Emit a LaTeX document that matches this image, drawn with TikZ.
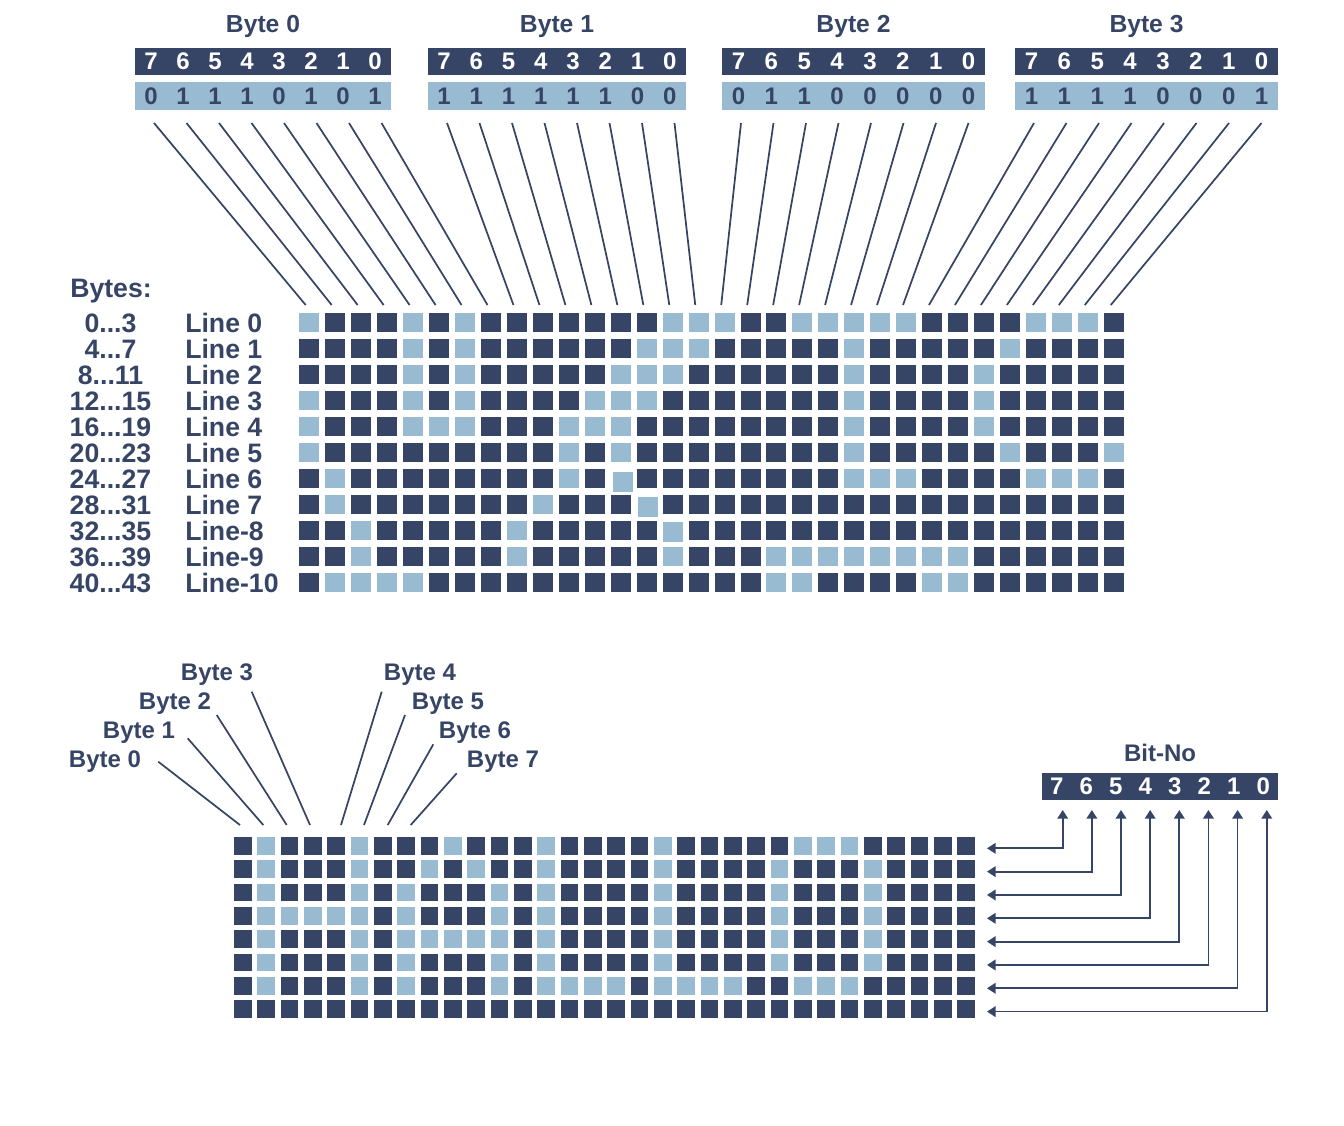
\documentclass[tikz,border=0pt]{standalone}
\usepackage{fontspec}
\setmainfont{Liberation Sans}
\usetikzlibrary{arrows.meta,calc}
\definecolor{navy}{RGB}{54,69,102}
\definecolor{lite}{RGB}{153,187,210}
\newcommand\tdots{...}
\begin{document}
\begin{tikzpicture}[x=0.75pt,y=-0.75pt,
  title/.style={text=navy,font=\bfseries\fontsize{18.5}{20}\selectfont,inner sep=0pt,anchor=base},
  lbl/.style={text=navy,font=\bfseries\fontsize{18}{20}\selectfont,inner sep=0pt,anchor=base},
  biglbl/.style={text=navy,font=\bfseries\fontsize{20}{22}\selectfont,inner sep=0pt},
  digw/.style={text=white,font=\bfseries\fontsize{18}{20}\selectfont,inner sep=0pt},
  digd/.style={text=navy,font=\bfseries\fontsize{18}{20}\selectfont,inner sep=0pt},
  barbox/.style={anchor=north west,inner sep=0pt,outer sep=0pt},
  sq/.style={anchor=north west,minimum width=15pt,minimum height=14.6pt,inner sep=0pt,outer sep=0pt},
  sqb/.style={anchor=north west,minimum size=13.3pt,inner sep=0pt,outer sep=0pt},
  c0/.style={fill=lite},
  c1/.style={fill=navy},
  c2/.style={fill=lite,xshift=2pt,yshift=-2.5pt},
  c3/.style={fill=lite,xshift=1.3pt,yshift=-1.7pt},
  c4/.style={fill=lite,yshift=-1pt},
  conn/.style={draw=navy,line width=1.3pt},
  arr/.style={draw=navy,line width=1.3pt,{Triangle[length=6.5pt,width=8pt]}-{Triangle[length=6.5pt,width=8pt]}}
]
\useasboundingbox (0,0) rectangle (1344,1125);

% ---------- byte tables at the top ----------
\foreach \k/\xa/\xb/\bits in {0/135/391/{0,1,1,1,0,1,0,1},1/428/686/{1,1,1,1,1,1,0,0},2/722/985/{0,1,1,0,0,0,0,0},3/1015/1278/{1,1,1,1,0,0,0,1}}{
  \node[title] (title\k) at ({(\xa+\xb)/2},32) {Byte \k};
  \node[barbox,fill=navy,minimum width={0.75pt*(\xb-\xa)},minimum height=20.5pt] (dbar\k) at (\xa,48) {};
  \node[barbox,fill=lite,minimum width={0.75pt*(\xb-\xa)},minimum height=21pt] (lbar\k) at (\xa,82) {};
  \foreach \b [count=\i from 0] in \bits {
    \pgfmathtruncatemacro\d{7-\i}
    \node[digw] (dn\k-\i) at ({\xa+(\i+0.5)*(\xb-\xa)/8},61.5) {\d};
    \node[digd] (vn\k-\i) at ({\xa+(\i+0.5)*(\xb-\xa)/8},96) {\b};
    \pgfmathtruncatemacro\col{8*\k+\i}
    \coordinate (s\k-\i) at ({\xa+19+32.5*\i},123);
    \coordinate (e\k-\i) at ({305.7+25.97*\col},305);
    \draw[conn] (s\k-\i) -- (e\k-\i);
  }
}

% ---------- top pixel grid ----------
\foreach \rowdata [count=\r from 0] in {
{0,1,1,1,0,1,0,1,1,1,1,1,1,1,0,0,0,1,1,0,0,0,0,0,1,1,1,1,0,0,0,1},
{1,1,1,1,0,1,0,1,1,1,1,1,1,0,0,0,1,1,1,1,1,0,1,1,1,1,1,0,1,1,1,1},
{1,1,1,1,0,1,0,1,1,1,1,1,0,0,0,1,1,1,1,1,1,0,1,1,1,1,0,1,1,1,1,1},
{0,1,1,1,0,1,0,1,1,1,1,0,0,0,1,1,1,1,1,1,1,0,1,1,1,1,0,1,1,1,1,1},
{0,1,1,1,0,0,0,1,1,1,0,0,0,1,1,1,1,1,1,1,1,0,1,1,1,1,0,1,1,1,1,1},
{0,1,1,1,1,1,1,1,1,1,0,1,0,1,1,1,1,1,1,1,1,0,1,1,1,1,1,0,1,1,1,0},
{1,0,1,1,1,1,1,1,1,1,0,1,2,1,1,1,1,1,1,1,1,0,0,0,1,1,1,1,0,0,0,1},
{1,0,1,1,1,1,1,1,1,0,1,1,1,3,1,1,1,1,1,1,1,1,1,1,1,1,1,1,1,1,1,1},
{1,1,0,1,1,1,1,1,0,1,1,1,1,1,4,1,1,1,1,1,1,1,1,1,1,1,1,1,1,1,1,1},
{1,1,0,1,1,1,1,1,0,1,1,1,1,1,0,1,1,1,0,0,0,0,0,0,0,0,1,1,1,1,1,1},
{1,0,0,0,0,1,1,1,1,1,1,1,1,1,1,1,1,1,0,0,1,1,1,1,0,0,1,1,1,1,1,1}}{
  \foreach \v [count=\c from 0] in \rowdata {
    \node[sq,c\v] (t-\r-\c) at ({299+25.97*\c},{313+26*\r}) {};
  }
}

% ---------- left labels ----------
\node[biglbl,anchor=base west] (bytes) at (70,297.5) {Bytes:};
\foreach \rng/\ln [count=\r from 0] in {0\tdots3/Line 0,4\tdots7/Line 1,8\tdots11/Line 2,12\tdots15/Line 3,16\tdots19/Line 4,20\tdots23/Line 5,24\tdots27/Line 6,28\tdots31/Line 7,32\tdots35/Line-8,36\tdots39/Line-9,40\tdots43/Line-10}{
  \node[biglbl,anchor=base] (rng\r) at (110.5,{332.5+26*\r}) {\rng};
  \node[biglbl,anchor=base west] (ln\r) at (185,{332.5+26*\r}) {\ln};
}

% ---------- bottom pixel grid ----------
\foreach \rowdata [count=\r from 0] in {
{1,0,1,1,1,0,1,1,1,0,1,1,1,0,1,1,1,1,0,1,1,1,1,1,0,0,0,1,1,1,1,1},
{1,0,1,1,1,0,1,1,0,1,0,1,1,0,1,1,1,1,0,1,1,1,1,0,1,1,1,0,1,1,1,1},
{1,0,1,1,1,0,1,0,1,1,1,0,1,0,1,1,1,1,0,1,1,1,1,0,1,1,1,0,1,1,1,1},
{1,0,0,0,0,0,1,0,1,1,1,0,1,0,1,1,1,1,0,1,1,1,1,0,1,1,1,0,1,1,1,1},
{1,0,1,1,1,0,1,0,0,0,0,0,1,0,1,1,1,1,0,1,1,1,1,0,1,1,1,0,1,1,1,1},
{1,0,1,1,1,0,1,0,1,1,1,0,1,0,1,1,1,1,0,1,1,1,1,0,1,1,1,0,1,1,1,1},
{1,0,1,1,1,0,1,0,1,1,1,0,1,0,0,0,0,1,0,0,0,0,1,1,0,0,0,1,1,1,1,1},
{1,1,1,1,1,1,1,1,1,1,1,1,1,1,1,1,1,1,1,1,1,1,1,1,1,1,1,1,1,1,1,1}}{
  \foreach \v [count=\c from 0] in \rowdata {
    \node[sqb,c\v] (b-\r-\c) at ({234+23.33*\c},{837+23.33*\r}) {};
  }
}

% ---------- bottom byte labels ----------
\foreach \n/\lx/\ly/\sx/\sy/\ex in {0/105/759/158.3/761.7/240,1/139/730/187.7/738.3/263.3,2/175/701/216.7/715/286.7,3/217/672/251.7/691.7/310,4/420/672/381.7/691.7/341,5/448/701/405/715/364,6/475/730/433.3/744.3/387.7,7/503/759/456.7/773.3/410.7}{
  \node[lbl] (bl\n) at (\lx,{\ly+8.6}) {Byte \n};
  \coordinate (bs\n) at (\sx,\sy);
  \coordinate (be\n) at (\ex,825);
  \draw[conn] (bs\n) -- (be\n);
}

% ---------- Bit-No ----------
\node[lbl] (bitno) at (1160,761.6) {Bit-No};
\node[barbox,fill=navy,minimum width=177pt,minimum height=20.25pt] (bitbar) at (1042,773) {};
\foreach \i in {0,...,7}{
  \pgfmathtruncatemacro\d{7-\i}
  \node[digw] (bd\i) at ({1042+(\i+0.5)*29.5},786.5) {\d};
  \coordinate (up\i) at ({1062.7+29.15*\i},810);
  \coordinate (lt\i) at (987,{848.3+23.33*\i});
  \draw[arr] (lt\i) -| (up\i);
}
\end{tikzpicture}
\end{document}
